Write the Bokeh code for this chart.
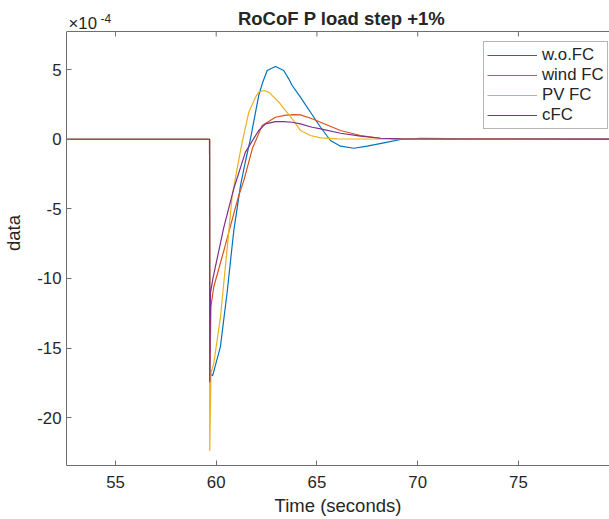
from bokeh.plotting import figure
from bokeh.models import Range1d, FixedTicker, Legend, LegendItem, Span
from bokeh.core.properties import value
from bokeh.embed import file_html
from bokeh.resources import INLINE

# ---- data (values in units of 1e-4) ----
t_wo = [52.5, 59.67, 59.68, 59.82, 60.21, 60.55, 60.87, 61.21, 61.45, 61.70, 62.11, 62.31, 62.53, 62.94,
        63.35, 63.6, 63.77, 64.18, 64.68, 65.18, 65.67, 66.17, 66.83, 67.49, 68.32, 69.15, 70.14, 71.5, 73.0, 80.0]
v_wo = [0, 0, -16.8, -17.0, -14.9, -10.9, -6.6, -3.3, -1.6, 0.03, 3.14, 4.1, 4.94, 5.22,
        4.94, 4.34, 3.86, 3.02, 1.94, 0.86, -0.09, -0.5, -0.65, -0.5, -0.26, -0.02, 0.07, 0.05, 0.01, 0]

t_wind = [52.5, 59.67, 59.68, 59.74, 59.88, 60.38, 60.87, 61.12, 61.37, 61.79, 62.28, 62.94, 63.4,
          63.85, 64.18, 64.76, 65.18, 66.17, 67.16, 68.15, 69.15, 70.8, 80.0]
v_wind = [0, 0, -17.3, -12.0, -10.6, -8.0, -5.36, -4.04, -2.97, -0.69, 0.98, 1.58, 1.72,
          1.77, 1.75, 1.47, 1.22, 0.63, 0.27, 0.07, 0.03, 0.01, 0]

t_pv = [52.5, 59.67, 59.68, 59.74, 59.88, 60.21, 60.6, 60.79, 61.04, 61.29, 61.62, 61.95, 62.11, 62.36,
        62.61, 62.86, 63.11, 63.77, 64.18, 64.68, 65.18, 66.0, 80.0]
v_pv = [0, 0, -22.4, -16.8, -16.1, -12.8, -7.0, -4.1, -2.1, -0.2, 1.94, 3.02, 3.38, 3.5,
        3.38, 3.02, 2.66, 1.47, 0.63, 0.27, 0.1, 0.02, 0]

t_cfc = [52.5, 59.67, 59.68, 59.72, 59.85, 60.38, 60.87, 61.45, 62.11, 62.45, 62.94, 63.35, 63.77, 64.18, 64.76,
         65.18, 66.17, 67.16, 68.15, 69.15, 80.0]
v_cfc = [0, 0, -17.46, -11.0, -9.9, -6.32, -3.56, -0.93, 0.63, 1.1, 1.27, 1.27, 1.22, 1.1, 0.86,
         0.75, 0.43, 0.22, 0.07, 0.03, 0]

series_names = ["w.o.FC", "wind FC", "PV FC", "cFC"]
colors = ["#0072BD", "#D95319", "#EDB120", "#7E2F8E"]
x_ticks = [55, 60, 65, 70, 75]
y_ticks = [-20, -15, -10, -5, 0, 5]
title_text = "RoCoF P load step +1%"

FONT = "Liberation Sans"
TXT = "#262626"
AX = "#6e6e6e"

# axes box limits (data units); the frame extends above the box to hold title/exponent
X0, X1 = 52.57, 79.52
Y0, Y1 = -23.44, 7.74
PX_X = 20.15   # px per second
PX_Y = 13.92   # px per 1e-4
YTOP = Y1 + 31 / PX_Y

p = figure(width=609, height=519, output_backend="svg", toolbar_location=None,
           x_range=Range1d(X0, X1), y_range=Range1d(Y0, YTOP),
           min_border_left=66, min_border_right=0, min_border_top=0, min_border_bottom=54)
p.outline_line_color = None
p.grid.visible = False
p.background_fill_color = "white"
p.border_fill_color = "white"

for ax in (p.xaxis[0], p.yaxis[0]):
    ax.axis_line_color = AX
    ax.major_tick_line_color = AX
    ax.major_tick_in = 5
    ax.major_tick_out = 0
    ax.minor_tick_line_color = None
    ax.major_label_text_font = FONT
    ax.major_label_text_font_size = "16.8px"
    ax.major_label_text_color = TXT
    ax.axis_label_text_font = FONT
    ax.axis_label_text_font_size = "18.5px"
    ax.axis_label_text_font_style = "normal"
    ax.axis_label_text_color = TXT

p.xaxis[0].ticker = FixedTicker(ticks=x_ticks)
p.yaxis[0].ticker = FixedTicker(ticks=y_ticks)
p.yaxis[0].bounds = (Y0, Y1)
p.yaxis[0].major_label_overrides = {t: str(t) for t in y_ticks}
p.xaxis[0].axis_label = "Time (seconds)"
p.yaxis[0].axis_label = "data"
p.xaxis[0].major_label_standoff = 10
p.xaxis[0].axis_label_standoff = 4
p.yaxis[0].major_label_standoff = 5
p.yaxis[0].axis_label_standoff = 10

# top edge of the axes box and its inward ticks
p.add_layout(Span(location=Y1, dimension="width", line_color=AX, line_width=1))
p.segment(x0=x_ticks, y0=[Y1] * len(x_ticks), x1=x_ticks, y1=[Y1 - 5 / PX_Y] * len(x_ticks),
          line_color=AX, line_width=1)

renderers = []
for t, v, c in zip([t_wo, t_wind, t_pv, t_cfc], [v_wo, v_wind, v_pv, v_cfc], colors):
    renderers.append(p.line(t, v, line_color=c, line_width=1.2))

# title and exponent marker
p.text(x=[X0 + 275 / PX_X], y=[Y1 + 13 / PX_Y], text=[title_text],
       text_font=value(FONT), text_font_size=value("18.5px"), text_font_style=value("bold"),
       text_color=TXT, text_align="center", text_baseline="alphabetic")
p.text(x=[X0 + 2 / PX_X], y=[Y1 + 8.3 / PX_Y], text=["×10"],
       text_font=value(FONT), text_font_size=value("16.8px"),
       text_color=TXT, text_align="left", text_baseline="alphabetic")
p.text(x=[X0 + 34 / PX_X], y=[Y1 + 13.3 / PX_Y], text=["-4"],
       text_font=value(FONT), text_font_size=value("12px"),
       text_color=TXT, text_align="left", text_baseline="alphabetic")

legend = Legend(items=[LegendItem(label=n, renderers=[r]) for n, r in zip(series_names, renderers)],
                location=(417, 336), margin=0, padding=3, spacing=0,
                glyph_width=50, glyph_height=20, label_height=20, label_standoff=5,
                label_text_font=FONT, label_text_font_size="16.8px", label_text_color=TXT,
                border_line_color=AX, border_line_width=1, background_fill_color="white",
                background_fill_alpha=1)
p.add_layout(legend)

open("out.html", "w").write(file_html(p, INLINE))
